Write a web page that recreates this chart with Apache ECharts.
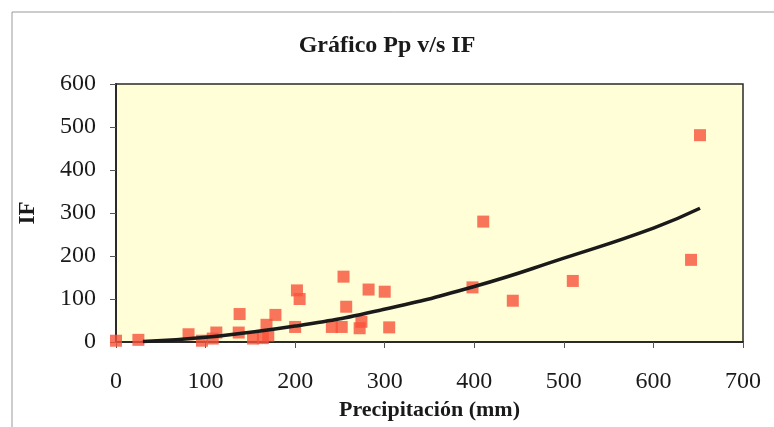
<!DOCTYPE html>
<html>
<head>
<meta charset="utf-8">
<script src="https://cdn.jsdelivr.net/npm/echarts@6/dist/echarts.min.js"></script>
<style>
html,body{margin:0;padding:0;background:#ffffff;}
#chart{width:774px;height:427px;}
</style>
</head>
<body>
<div id="chart"></div>
<script>
// Observed points: [precipitación (mm), IF]
var precipitacion = [0, 25, 81, 96, 108, 112, 137, 138, 153, 164, 168, 170, 178, 200, 202, 205, 241, 252, 254, 257, 272, 274, 282, 300, 305, 398, 410, 443, 510, 642, 652];
var indiceIF     = [3, 5, 18, 3, 8, 22, 22, 65, 8, 9, 40, 15, 63, 35, 120, 100, 35, 35, 152, 82, 32, 47, 122, 117, 34, 127, 280, 96, 142, 191, 481];
// Trend line
var trendX = [30, 100, 200, 295, 400, 500, 600, 652];
var trendY = [1, 11, 37, 74, 129, 195, 265, 311];
// Axis ticks
var xTicks = [0, 100, 200, 300, 400, 500, 600, 700];
var yTicks = [0, 100, 200, 300, 400, 500, 600];

var serif = "'Liberation Serif','Times New Roman',serif";
var scatterData = precipitacion.map(function(v, i){ return [v, indiceIF[i]]; });
var lineData = trendX.map(function(v, i){ return [v, trendY[i]]; });

var chart = echarts.init(document.getElementById('chart'));
chart.setOption({
  animation: false,
  backgroundColor: '#ffffff',
  graphic: [{
    type: 'rect',
    shape: {x: 12, y: 12, width: 800, height: 460},
    style: {fill: 'none', stroke: '#9a9a9a', lineWidth: 1},
    silent: true
  }],
  title: {
    text: 'Gráfico Pp v/s IF',
    left: 'center',
    top: 29,
    textStyle: {fontFamily: serif, fontSize: 24, fontWeight: 'bold', color: '#1a1a1a'}
  },
  grid: {
    left: 116, top: 84, right: 31, bottom: 85,
    show: true,
    backgroundColor: '#fffed6',
    borderColor: '#2a2a2a',
    borderWidth: 1.5
  },
  xAxis: {
    type: 'value',
    min: xTicks[0], max: xTicks[xTicks.length - 1], interval: 100,
    name: 'Precipitación (mm)',
    nameLocation: 'middle',
    nameGap: 56,
    nameTextStyle: {fontFamily: serif, fontSize: 22, fontWeight: 'bold', color: '#1a1a1a'},
    axisLine: {show: true, lineStyle: {color: '#2a2a2a', width: 2}},
    axisTick: {show: true, inside: false, length: 6, lineStyle: {color: '#555'}},
    axisLabel: {fontFamily: serif, fontSize: 24, color: '#1a1a1a', margin: 28},
    splitLine: {show: false}
  },
  yAxis: {
    type: 'value',
    min: yTicks[0], max: yTicks[yTicks.length - 1], interval: 100,
    name: 'IF',
    nameLocation: 'middle',
    nameGap: 76,
    nameRotate: 90,
    nameTextStyle: {fontFamily: serif, fontSize: 23, fontWeight: 'bold', color: '#1a1a1a'},
    axisLine: {show: true, lineStyle: {color: '#2a2a2a', width: 2}},
    axisTick: {show: true, inside: false, length: 6, lineStyle: {color: '#555'}},
    axisLabel: {fontFamily: serif, fontSize: 24, color: '#1a1a1a', margin: 20},
    splitLine: {show: false}
  },
  series: [{
    type: 'scatter',
    data: scatterData,
    symbol: 'rect',
    symbolSize: 12,
    itemStyle: {color: '#f8533a'},
    z: 2
  }, {
    type: 'line',
    data: lineData,
    smooth: true,
    showSymbol: false,
    lineStyle: {color: '#1a1a1a', width: 3.5},
    z: 3
  }]
});
</script>
</body>
</html>
